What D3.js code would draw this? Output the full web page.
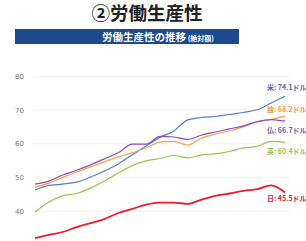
<!DOCTYPE html>
<html>
<head>
<meta charset="utf-8">
<script src="https://cdn.jsdelivr.net/npm/d3@7"></script>
<style>
  body { margin: 0; background: #fff; }
  svg { display: block; font-family: "Noto Sans CJK JP", sans-serif; }
</style>
</head>
<body>
<div id="container"></div>
<script>
// years and labour productivity per country (USD)
var years = d3.range(1998, 2017);
var usa = [46.25, 47.6, 48.0, 48.6, 50.1, 51.9, 54.0, 56.7, 59.3, 61.9, 63.8, 67.1, 67.8, 68.1, 68.7, 69.3, 70.1, 72.1, 74.1];
var deu = [47.1, 48.3, 50.0, 51.6, 53.1, 54.6, 56.1, 57.3, 58.75, 60.5, 60.7, 59.6, 61.7, 62.9, 63.8, 65.0, 66.5, 67.2, 68.2];
var fra = [48.0, 48.9, 50.7, 52.1, 53.7, 55.5, 57.3, 59.9, 59.9, 62.2, 62.0, 61.3, 62.6, 63.5, 64.4, 65.3, 66.6, 67.2, 66.7];
var gbr = [39.7, 42.7, 44.5, 45.2, 46.8, 48.9, 51.3, 53.5, 54.9, 55.6, 56.5, 55.8, 56.7, 57.0, 57.7, 58.75, 59.2, 60.7, 60.4];
var jpn = [31.9, 32.9, 33.75, 35.2, 36.4, 37.6, 39.4, 40.6, 41.9, 42.5, 42.5, 42.1, 43.4, 44.5, 45.2, 46.0, 46.5, 47.6, 45.5];
var yTicks = [40, 50, 60, 70, 80];

var series = [
    { name: '米', values: usa, color: '#4f7fc4', text: '#5b5fa8', label: '米: 74.1ドル', ly: 90 },
    { name: '独', values: deu, color: '#f4a24c', text: '#f29a3c', label: '独: 68.2ドル', ly: 112 },
    { name: '仏', values: fra, color: '#8c4db3', text: '#7a5aa8', label: '仏: 66.7ドル', ly: 133 },
    { name: '英', values: gbr, color: '#9cc24c', text: '#9cbf5a', label: '英: 60.4ドル', ly: 154 },
    { name: '日', values: jpn, color: '#ec1c2c', text: '#d8202e', label: '日: 45.5ドル', ly: 201 }
];

var width = 306,
    height = 241;

var svg = d3.select('div#container')
    .append('svg')
    .attr('width', width)
    .attr('height', height);

// title
svg.append('text')
    .attr('x', 147)
    .attr('y', 20)
    .attr('text-anchor', 'middle')
    .attr('font-size', 18.5)
    .attr('font-weight', 'bold')
    .attr('fill', '#222')
    .text('②労働生産性');

// banner
svg.append('rect')
    .attr('x', 15)
    .attr('y', 29)
    .attr('width', 224)
    .attr('height', 15)
    .attr('fill', '#1d4a8a');

var banner = svg.append('text')
    .attr('x', 158)
    .attr('y', 40.5)
    .attr('text-anchor', 'middle')
    .attr('fill', '#fff')
    .attr('font-weight', 'bold');
banner.append('tspan').attr('font-size', 10.5).text('労働生産性の推移');
banner.append('tspan').attr('font-size', 7).text(' (絶対額)');

var x = d3.scaleLinear()
    .domain([years[0], years[years.length - 1]])
    .range([35, 285]);

var y = d3.scaleLinear()
    .domain([30, 80])
    .range([244.6, 76.5]);

// faint grid
svg.append('g')
    .selectAll('line')
    .data(yTicks)
    .enter().append('line')
    .attr('x1', 33)
    .attr('x2', 290)
    .attr('y1', function(d) { return y(d); })
    .attr('y2', function(d) { return y(d); })
    .attr('stroke', '#f3f3f3')
    .attr('stroke-width', 1);

var yAxis = svg.append('g')
    .attr('transform', 'translate(24,0)')
    .call(d3.axisLeft(y).tickValues(yTicks).tickSize(0).tickPadding(0));
yAxis.select('.domain').remove();
yAxis.selectAll('text')
    .attr('font-size', 7)
    .attr('fill', '#777')
    .attr('font-family', 'DejaVu Sans, sans-serif');

var line = d3.line()
    .x(function(d, i) { return x(years[i]); })
    .y(function(d) { return y(d); })
    .curve(d3.curveMonotoneX);

svg.append('g')
    .selectAll('path')
    .data(series)
    .enter().append('path')
    .attr('d', function(d) { return line(d.values); })
    .attr('fill', 'none')
    .attr('stroke', function(d) { return d.color; })
    .attr('stroke-width', function(d) { return d.name === '日' ? 1.8 : 1.2; });

svg.append('g')
    .selectAll('text')
    .data(series)
    .enter().append('text')
    .attr('x', 267)
    .attr('y', function(d) { return d.ly; })
    .attr('font-size', 7)
    .attr('font-weight', 'bold')
    .attr('fill', function(d) { return d.text; })
    .text(function(d) { return d.label; });
</script>
</body>
</html>
